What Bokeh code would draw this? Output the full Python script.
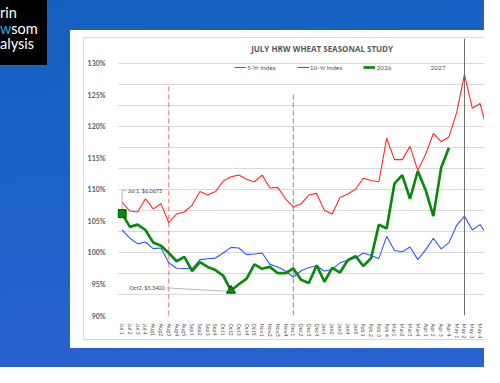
from bokeh.plotting import figure
from bokeh.models import (Range1d, FixedTicker, PrintfTickFormatter, Span, Label, Legend,
                          LegendItem, Div, Row, Column)
from bokeh.core.properties import value
from bokeh.embed import file_html
from bokeh.resources import INLINE

# ---------------- data ----------------
weeks = ["Jul 1", "Jul 2", "Jul 3", "Jul 4", "Aug1", "Aug2", "Aug3", "Aug4", "Aug5",
         "Sep1", "Sep2", "Sep3", "Sep4", "Oct1", "Oct2", "Oct3", "Oct4", "Oct5",
         "Nov1", "Nov2", "Nov3", "Nov4", "Dec1", "Dec2", "Dec3", "Dec4",
         "Jan1", "Jan2", "Jan3", "Jan4", "Jan5", "Feb 1", "Feb 2", "Feb 3", "Feb 4",
         "Mar1", "Mar2", "Mar3", "Mar4", "Apr 1", "Apr 2", "Apr 3", "Apr 4",
         "May 1", "May 2", "May 3", "May 4", "May 5", "Jun 1"]

five_yr = [107.95, 106.55, 106.4, 108.5, 106.9, 107.7, 104.7, 106.1, 106.4, 107.5,
           109.65, 109.1, 109.65, 111.3, 112.0, 112.25, 111.6, 111.2, 112.25, 110.2,
           110.3, 108.5, 107.2, 107.7, 109.1, 109.35, 106.65, 106.1, 108.7, 109.25,
           110.0, 111.75, 111.4, 111.2, 118.1, 114.7, 114.7, 116.8, 113.0, 115.5,
           118.85, 117.55, 118.3, 122.2, 128.2, 122.85, 123.6, 118.95, 119.5]

ten_yr = [103.55, 102.25, 101.35, 101.65, 100.6, 100.7, 98.35, 97.5, 97.45, 97.4,
          98.85, 99.0, 99.1, 99.9, 100.8, 100.7, 99.65, 99.75, 99.9, 98.1,
          97.7, 97.05, 96.1, 97.05, 97.6, 97.85, 97.05, 97.3, 98.35, 98.75,
          99.1, 99.9, 99.5, 99.05, 102.55, 100.3, 100.1, 100.85, 98.85, 100.4,
          102.25, 100.55, 101.55, 104.3, 105.75, 103.55, 104.4, 102.6, 102.9]

y2026 = [106.15, 104.05, 104.4, 103.55, 101.55, 101.05, 99.9, 98.6, 99.3, 97.05,
         98.45, 97.7, 97.2, 96.3, 93.95, 94.95, 95.85, 98.1, 97.4, 97.7,
         96.7, 96.7, 97.45, 95.65, 95.15, 97.95, 95.35, 97.55, 96.8, 98.75,
         99.4, 97.85, 99.1, 104.4, 103.8, 110.9, 112.25, 108.5, 112.9, 109.9,
         105.75, 113.4, 116.6]

y2027 = []

y_ticks = [90, 95, 100, 105, 110, 115, 120, 125, 130]

high_idx, high_text = 0, "Jul 1, $6.0675"
low_idx, low_text = 14, "Oct2, $5.3400"
red_mark_idx, red_mark_top = 6, 126.4
blue_mark_idx, blue_mark_top = 22, 125.3
today_idx = 44

# ---------------- chart ----------------
FIG_W, FIG_H = 401, 303
p = figure(width=FIG_W, height=FIG_H, output_backend="svg", toolbar_location=None,
           x_range=Range1d(-0.591, 46.70), y_range=Range1d(90, 133.9),
           min_border_left=25, min_border_right=0, min_border_top=0,
           min_border_bottom=21, margin=(7, 0, 0, 13),
           styles={"border-top": "1px solid #d9d9d9", "border-left": "1px solid #d9d9d9",
                   "border-bottom": "1px solid #d9d9d9", "box-sizing": "border-box"})
p.border_fill_color = "white"
p.background_fill_color = "white"
p.outline_line_color = None

p.xgrid.visible = False
p.ygrid.ticker = FixedTicker(ticks=[90 + i * 10 / 3 for i in range(13)])
p.ygrid.grid_line_color = "#d9d9d9"

p.yaxis.ticker = FixedTicker(ticks=y_ticks)
p.yaxis.formatter = PrintfTickFormatter(format="%d%%")
p.yaxis.axis_line_color = None
p.yaxis.major_tick_line_color = None
p.yaxis.minor_tick_line_color = None
p.yaxis.major_label_standoff = 6
p.yaxis.major_label_text_font = "Lato"
p.yaxis.major_label_text_font_style = "bold"
p.yaxis.major_label_text_font_size = "7px"
p.yaxis.major_label_text_color = "#595959"

xs = list(range(len(weeks)))
p.xaxis.ticker = FixedTicker(ticks=xs)
p.xaxis.major_label_overrides = {i: w for i, w in enumerate(weeks)}
p.xaxis.major_label_orientation = "vertical"
p.xaxis.axis_line_color = None
p.xaxis.major_tick_line_color = None
p.xaxis.minor_tick_line_color = None
p.xaxis.major_label_standoff = 2
p.xaxis.major_label_text_font = "Lato"
p.xaxis.major_label_text_font_size = "5.5px"
p.xaxis.major_label_text_color = "#595959"

# title (inside plot area, above the 130% line)
p.add_layout(Label(x=25.7, y=132.33, text="JULY HRW WHEAT SEASONAL STUDY",
                   text_font="Open Sans", text_font_style="bold", text_font_size="8px",
                   text_color="#595959", text_align="center", text_baseline="middle"))

# marker lines
p.segment(x0=[red_mark_idx], y0=[90], x1=[red_mark_idx], y1=[red_mark_top],
          line_color="#ff6b6b", line_dash="5 3", line_width=1)
p.segment(x0=[blue_mark_idx], y0=[90], x1=[blue_mark_idx], y1=[blue_mark_top],
          line_color="#6b86ff", line_dash="5 3", line_width=1)
p.add_layout(Span(location=today_idx, dimension="height", line_color="#6e6e6e", line_width=1))

# series
r5 = p.line(xs[:len(five_yr)], five_yr, line_color="#ff2a2a", line_width=1.1)
r10 = p.line(xs[:len(ten_yr)], ten_yr, line_color="#3355ff", line_width=1.1)
r26 = p.line(xs[:len(y2026)], y2026, line_color="#0a8a0a", line_width=2.7)
r27 = p.line(xs[:len(y2027)], y2027, line_color="#ffc000", line_width=2)

# high / low annotations
hy = y2026[high_idx]
ly = y2026[low_idx]
p.line([high_idx, high_idx, high_idx + 0.55], [hy + 0.6, hy + 3.65, hy + 3.65],
       line_color="#a6a6a6", line_width=0.8)
p.line([low_idx - 8.27, low_idx - 0.45], [ly + 0.42, ly - 0.1],
       line_color="#a6a6a6", line_width=0.8)
p.scatter([high_idx], [hy], marker="square", size=8, fill_color="#0a8a0a",
          line_color="#004d00", line_width=1)
p.scatter([low_idx], [ly], marker="triangle", size=9, fill_color="#0a8a0a",
          line_color="#004d00", line_width=1)
p.text(x=[high_idx + 0.75], y=[hy + 3.65], text=[high_text], text_font=value("Lato"),
       text_font_size="5.5px", text_color="#404040", text_baseline="middle", text_align="left")
p.text(x=[low_idx - 8.52], y=[ly + 0.42], text=[low_text], text_font=value("Lato"),
       text_font_size="5.5px", text_color="#404040", text_baseline="middle", text_align="right")

legend = Legend(items=[LegendItem(label="5-Yr Index", renderers=[r5]),
                       LegendItem(label="10-Yr Index", renderers=[r10]),
                       LegendItem(label="2026", renderers=[r26]),
                       LegendItem(label="2027", renderers=[r27])],
                orientation="horizontal", location=(117, 243), glyph_width=12,
                glyph_height=10, label_height=10, label_standoff=1, spacing=21,
                padding=0, margin=0, border_line_color=None, background_fill_alpha=0,
                label_text_font="Lato", label_text_font_size="6.5px",
                label_text_color="#595959")
p.add_layout(legend, "center")

# ---------------- page decoration ----------------
card = Column(children=[p], width=414, height=318, margin=(30, 0, 0, 23),
              styles={"background-color": "white", "overflow": "hidden"})

logo_html = ('<div style="font-family:Lato;font-size:14.5px;line-height:15.5px;'
             'color:white;padding-top:5px;white-space:nowrap">'
             'rin<br><span style="color:#29a8e0">w</span>som<br>alysis</div>')
logo = Div(text=logo_html, width=47, height=65, margin=0,
           styles={"background-color": "black", "overflow": "hidden"})

page = Row(children=[logo, card], width=484, height=367,
           styles={"background": "linear-gradient(172deg, #1460c0 0%, #2a62d2 100%)",
                   "overflow": "hidden"})

open("out.html", "w").write(file_html(page, INLINE))
